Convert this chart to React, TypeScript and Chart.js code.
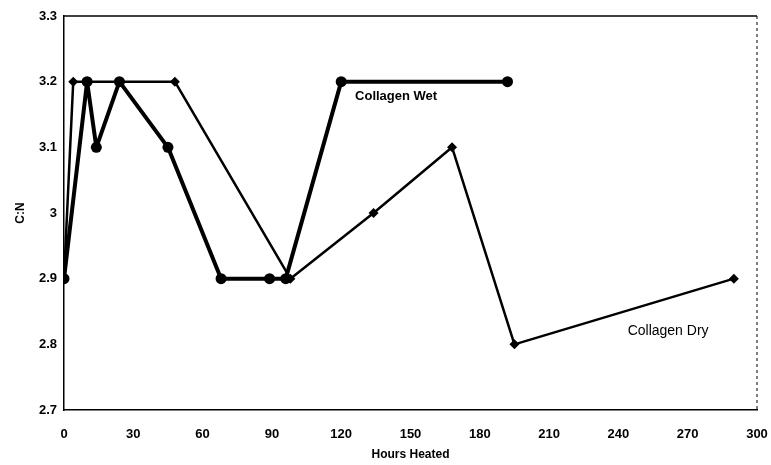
import React, { useEffect, useRef } from "react";
import { Chart, registerables } from "chart.js";

Chart.register(...registerables);

const wetHours = [0, 10, 14, 24, 45, 68, 89, 96, 120, 192];
const wetCN = [2.9, 3.2, 3.1, 3.2, 3.1, 2.9, 2.9, 2.9, 3.2, 3.2];
const dryHours = [0, 4, 48, 98, 134, 168, 195, 290];
const dryCN = [2.9, 3.2, 3.2, 2.9, 3.0, 3.1, 2.8, 2.9];
const xTickValues = [0, 30, 60, 90, 120, 150, 180, 210, 240, 270, 300];
const yTickValues = [2.7, 2.8, 2.9, 3.0, 3.1, 3.2, 3.3];
const seriesNames = ["Collagen Wet", "Collagen Dry"];
const labelAnchors = [
  { x: 126, y: 3.177 },
  { x: 244, y: 2.82 },
];

const FONT = "'Liberation Sans', Arial, sans-serif";

const framePlugin = {
  id: "frame",
  afterDatasetsDraw(chart: any) {
    const { ctx, chartArea, scales } = chart;
    ctx.save();
    ctx.strokeStyle = "#000";
    ctx.lineWidth = 1.5;
    ctx.beginPath();
    ctx.moveTo(chartArea.left, chartArea.top);
    ctx.lineTo(chartArea.right, chartArea.top);
    ctx.stroke();
    ctx.lineWidth = 1;
    ctx.setLineDash([3, 3]);
    ctx.beginPath();
    ctx.moveTo(chartArea.right, chartArea.top);
    ctx.lineTo(chartArea.right, chartArea.bottom);
    ctx.stroke();
    ctx.setLineDash([]);
    ctx.fillStyle = "#000";
    ctx.textBaseline = "middle";
    ctx.textAlign = "left";
    ctx.font = `bold 13px ${FONT}`;
    ctx.fillText(
      seriesNames[0],
      scales.x.getPixelForValue(labelAnchors[0].x),
      scales.y.getPixelForValue(labelAnchors[0].y)
    );
    ctx.font = `14px ${FONT}`;
    ctx.fillText(
      seriesNames[1],
      scales.x.getPixelForValue(labelAnchors[1].x),
      scales.y.getPixelForValue(labelAnchors[1].y)
    );
    ctx.restore();
  },
};

export default function App() {
  const ref = useRef<HTMLCanvasElement | null>(null);
  useEffect(() => {
    if (!ref.current) return;
    const chart = new Chart(ref.current, {
      type: "line",
      data: {
        datasets: [
          {
            label: seriesNames[0],
            data: wetHours.map((h, i) => ({ x: h, y: wetCN[i] })),
            borderColor: "#000",
            backgroundColor: "#000",
            borderWidth: 4,
            borderJoinStyle: "round",
            pointStyle: "circle",
            pointRadius: 5.5,
            pointBorderWidth: 0,
            tension: 0,
          },
          {
            label: seriesNames[1],
            data: dryHours.map((h, i) => ({ x: h, y: dryCN[i] })),
            borderColor: "#000",
            backgroundColor: "#000",
            borderWidth: 2.5,
            borderJoinStyle: "round",
            pointStyle: "rectRot",
            pointRadius: 5,
            pointBorderWidth: 0,
            tension: 0,
          },
        ],
      },
      options: {
        animation: false,
        responsive: false,
        devicePixelRatio: 1,
        layout: { padding: { left: 0, right: 14, top: 16, bottom: 0 } },
        plugins: { legend: { display: false }, tooltip: { enabled: false } },
        scales: {
          x: {
            type: "linear",
            min: 0,
            max: 300,
            afterBuildTicks: (s: any) => {
              s.ticks = xTickValues.map((v) => ({ value: v }));
            },
            afterFit: (s: any) => {
              s.height = 55;
              s.paddingLeft = 0;
              s.paddingRight = 0;
            },
            grid: { display: false, drawTicks: false },
            border: { display: true, color: "#000", width: 1.5 },
            ticks: {
              padding: 17,
              color: "#000",
              font: { family: FONT, size: 13, weight: "bold" },
              maxRotation: 0,
              autoSkip: false,
              callback: (v: any) => String(v),
            },
            title: {
              display: true,
              text: "Hours Heated",
              color: "#000",
              font: { family: FONT, size: 12, weight: "bold" },
              padding: { top: 0, bottom: 3 },
            },
          },
          y: {
            type: "linear",
            min: 2.7,
            max: 3.3,
            afterBuildTicks: (s: any) => {
              s.ticks = yTickValues.map((v) => ({ value: v }));
            },
            afterFit: (s: any) => {
              s.width = 64;
              s.paddingTop = 0;
              s.paddingBottom = 0;
            },
            grid: { display: false, drawTicks: false },
            border: { display: true, color: "#000", width: 1.5 },
            ticks: {
              padding: 7,
              color: "#000",
              font: { family: FONT, size: 13, weight: "bold" },
              autoSkip: false,
              callback: (v: any) => String(Number(Number(v).toFixed(1))),
            },
            title: {
              display: true,
              text: "C:N",
              color: "#000",
              font: { family: FONT, size: 12, weight: "bold" },
              padding: { top: 13, bottom: 0 },
            },
          },
        },
      },
      plugins: [framePlugin],
    } as any);
    return () => chart.destroy();
  }, []);
  return (
    <div style={{ position: "fixed", left: 0, top: 0, width: 771, height: 465, background: "#fff" }}>
      <canvas ref={ref} width={771} height={465} style={{ width: 771, height: 465 }} />
    </div>
  );
}
